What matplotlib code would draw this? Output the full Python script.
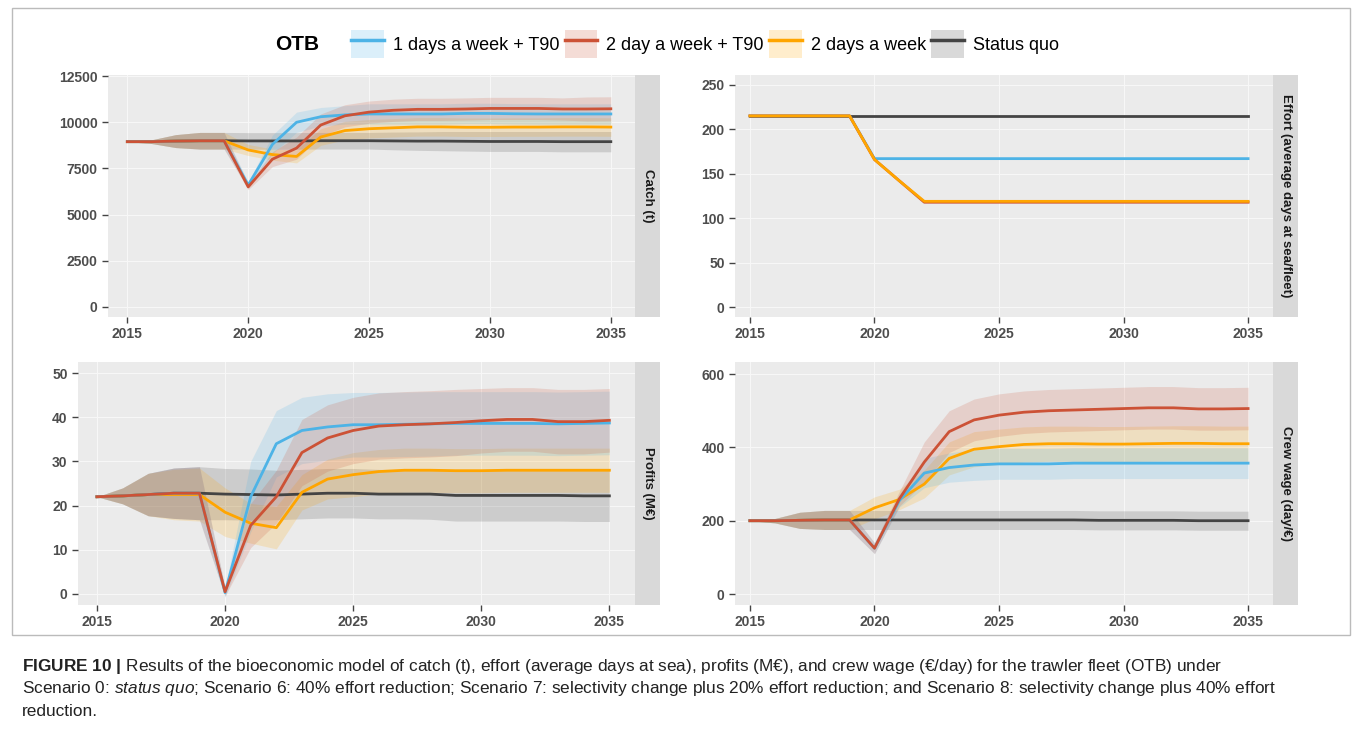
import matplotlib
matplotlib.use("Agg")
import matplotlib.pyplot as plt
import numpy as np
from matplotlib.lines import Line2D
from matplotlib.patches import Patch, Rectangle

plt.rcParams["font.family"] = ["Liberation Sans", "DejaVu Sans"]
plt.rcParams["mathtext.fontset"] = "custom"
plt.rcParams["mathtext.rm"] = "Liberation Sans"
plt.rcParams["mathtext.it"] = "Liberation Sans:italic"
plt.rcParams["mathtext.bf"] = "Liberation Sans:bold"

years = list(range(2015, 2036))
series_names = ["1 days a week + T90", "2 day a week + T90", "2 days a week", "Status quo"]
colors = ["#4DB3E6", "#CC5236", "#FFA500", "#444444"]

# catch (t)
catch_blue = [8950, 8950, 8980, 9000, 9000, 6600, 8800, 10000, 10300, 10400, 10450, 10450, 10450, 10450, 10480, 10480, 10460, 10450, 10450, 10450, 10450]
catch_red = [8950, 8950, 8980, 9000, 9000, 6500, 8000, 8600, 9850, 10350, 10550, 10650, 10700, 10700, 10720, 10750, 10750, 10750, 10720, 10720, 10730]
catch_orange = [8950, 8950, 8980, 9000, 9000, 8500, 8250, 8150, 9200, 9550, 9650, 9700, 9750, 9750, 9730, 9730, 9740, 9740, 9750, 9750, 9740]
catch_sq = [8950, 8950, 8980, 9000, 9000, 8990, 8990, 8990, 9000, 9000, 9000, 8990, 8980, 8980, 8970, 8960, 8960, 8960, 8950, 8950, 8950]
catch_spread_blue = [0, 100, 350, 450, 450, 150, 500, 550, 500, 500, 550, 550, 550, 550, 550, 550, 550, 550, 550, 550, 550]
catch_spread_red = [0, 100, 350, 450, 450, 150, 400, 600, 600, 600, 600, 600, 600, 600, 600, 600, 600, 600, 600, 650, 650]
catch_spread_orange = [0, 100, 350, 450, 450, 300, 300, 350, 450, 500, 500, 500, 500, 500, 500, 500, 500, 500, 500, 500, 500]
catch_spread_sq = [0, 100, 350, 450, 450, 450, 450, 450, 450, 450, 450, 480, 500, 520, 530, 540, 540, 540, 550, 550, 550]

# effort (average days at sea/fleet)
effort_blue = [215, 215, 215, 215, 215, 167, 167, 167, 167, 167, 167, 167, 167, 167, 167, 167, 167, 167, 167, 167, 167]
effort_red = [215, 215, 215, 215, 215, 166, 142, 118, 118, 118, 118, 118, 118, 118, 118, 118, 118, 118, 118, 118, 118]
effort_orange = [215, 215, 215, 215, 215, 166, 142, 119, 119, 119, 119, 119, 119, 119, 119, 119, 119, 119, 119, 119, 119]
effort_sq = [215] * 21

# profits (M EUR)
profit_blue = [22, 22.2, 22.5, 22.8, 22.8, 0.3, 22, 34, 37, 37.8, 38.3, 38.3, 38.4, 38.5, 38.6, 38.6, 38.6, 38.6, 38.5, 38.6, 38.7]
profit_red = [22, 22.2, 22.5, 22.8, 22.8, 0.5, 15.5, 22, 32, 35.3, 37, 38, 38.3, 38.5, 38.8, 39.2, 39.5, 39.5, 39, 39, 39.3]
profit_orange = [22, 22.2, 22.5, 22.5, 22.5, 18.5, 16, 15, 23, 26, 27, 27.7, 28, 28, 27.9, 27.9, 28, 28, 28, 28, 28]
profit_sq = [22, 22.2, 22.5, 22.8, 22.8, 22.6, 22.5, 22.4, 22.6, 22.8, 22.8, 22.6, 22.6, 22.6, 22.3, 22.3, 22.3, 22.3, 22.3, 22.2, 22.2]
profit_spread_blue = [0, 1.8, 4.8, 5.7, 6, 1, 8, 7.5, 7.5, 7.5, 7.3, 7.3, 7.3, 7.3, 7.2, 7.2, 7.2, 7.2, 7.2, 7.2, 7.2]
profit_spread_red = [0, 1.8, 4.8, 5.7, 6, 1, 5, 6, 7.5, 7.5, 7.5, 7.5, 7.5, 7.5, 7.5, 7.3, 7.2, 7.2, 7.3, 7.3, 7.2]
profit_spread_orange = [0, 1.8, 4.8, 5.7, 6, 5.5, 4.5, 4.8, 4, 4.5, 5, 5, 5, 5, 5, 5, 5, 5, 5, 5, 5]
profit_spread_sq = [0, 1.8, 4.8, 5.7, 6, 5.8, 5.8, 5.6, 5.6, 5.6, 5.6, 5.6, 5.6, 5.7, 5.8, 5.8, 5.8, 5.8, 5.8, 5.8, 5.8]

# crew wage (day/EUR)
wage_blue = [200, 200, 201, 202, 202, 125, 255, 330, 345, 352, 355, 355, 355, 357, 357, 357, 357, 357, 357, 357, 357]
wage_red = [200, 200, 201, 202, 202, 125, 260, 360, 443, 475, 488, 496, 500, 502, 504, 506, 508, 508, 505, 505, 506]
wage_orange = [200, 200, 201, 202, 202, 235, 258, 300, 370, 395, 402, 408, 410, 410, 409, 409, 410, 411, 411, 410, 410]
wage_sq = [200, 200, 201, 202, 202, 202, 202, 202, 202, 202, 202, 202, 202, 202, 201, 201, 201, 201, 200, 200, 200]
wage_spread_blue = [0, 6, 22, 26, 26, 15, 18, 40, 40, 42, 42, 42, 42, 42, 42, 42, 42, 42, 42, 42, 42]
wage_spread_red = [0, 6, 22, 26, 26, 15, 20, 55, 57, 57, 58, 58, 58, 58, 58, 58, 58, 58, 58, 58, 58]
wage_spread_orange = [0, 6, 22, 26, 26, 30, 28, 38, 45, 48, 48, 48, 48, 48, 48, 48, 48, 48, 48, 48, 48]
wage_spread_sq = [0, 6, 22, 26, 26, 26, 26, 26, 26, 26, 26, 26, 26, 26, 26, 26, 26, 26, 26, 26, 26]

panels = [
    ("Catch (t)", [catch_blue, catch_red, catch_orange, catch_sq],
     [catch_spread_blue, catch_spread_red, catch_spread_orange, catch_spread_sq],
     [0, 2500, 5000, 7500, 10000, 12500], (-545, 12560), (2014.2, 2036.0), [3, 2, 0, 1]),
    ("Effort (average days at sea/fleet)", [effort_blue, effort_red, effort_orange, effort_sq],
     None, [0, 50, 100, 150, 200, 250], (-11, 261), (2014.4, 2036.0), [3, 0, 1, 2]),
    ("Profits (M€)", [profit_blue, profit_red, profit_orange, profit_sq],
     [profit_spread_blue, profit_spread_red, profit_spread_orange, profit_spread_sq],
     [0, 10, 20, 30, 40, 50], (-2.5, 52.5), (2014.26, 2036.0), [3, 2, 0, 1]),
    ("Crew wage (day/€)", [wage_blue, wage_red, wage_orange, wage_sq],
     [wage_spread_blue, wage_spread_red, wage_spread_orange, wage_spread_sq],
     [0, 200, 400, 600], (-30, 633), (2014.4, 2036.0), [3, 2, 0, 1]),
]

W, H = 1358, 732
fig = plt.figure(figsize=(W / 100, H / 100), dpi=100)
fig.patch.set_facecolor("white")

# pixel boxes: left, top, right, bottom
boxes = [(108, 75, 635, 317), (735, 75, 1273, 317), (78, 362, 635, 605), (735, 362, 1273, 605)]
strip_w = 25

x = np.array(years)
for (title, lines, spreads, yticks, ylim, xlim, order), (l, t, r, b) in zip(panels, boxes):
    ax = fig.add_axes([l / W, 1 - b / H, (r - l) / W, (b - t) / H])
    ax.set_facecolor("#EBEBEB")
    for s in ax.spines.values():
        s.set_visible(False)
    ax.grid(True, color="#F7F7F7", linewidth=0.8)
    ax.set_axisbelow(True)
    if spreads is not None:
        for i in order:
            y = np.array(lines[i]); sp = np.array(spreads[i])
            ax.fill_between(x, y - sp, y + sp, color=colors[i], alpha=0.18, linewidth=0)
    for i in order:
        ax.plot(x, lines[i], color=colors[i], linewidth=2.0)
    ax.set_xlim(*xlim)
    ax.set_ylim(*ylim)
    ax.set_xticks([2015, 2020, 2025, 2030, 2035])
    ax.set_yticks(yticks)
    ax.tick_params(colors="#444444", labelsize=10, length=4, width=1)
    for lab in ax.get_xticklabels() + ax.get_yticklabels():
        lab.set_fontweight("bold")
        lab.set_color("#4D4D4D")
    sax = fig.add_axes([r / W, 1 - b / H, strip_w / W, (b - t) / H])
    sax.set_facecolor("#D9D9D9")
    sax.set_xticks([]); sax.set_yticks([])
    for s in sax.spines.values():
        s.set_visible(False)
    sax.text(0.5, 0.5, title, rotation=-90, ha="center", va="center",
             fontsize=9.5, fontweight="bold", color="#1A1A1A", transform=sax.transAxes)

handles = [(Patch(facecolor=c, alpha=0.2, edgecolor="none"), Line2D([], [], color=c, linewidth=2.5))
           for c in colors]
fig.text(297 / W, 1 - 44 / H, "OTB", fontsize=15, fontweight="bold", ha="center", va="center")
fig.legend(handles, series_names, loc="center", bbox_to_anchor=(705 / W, 1 - 44 / H), ncol=4,
           frameon=False, fontsize=13, handlelength=1.8, handletextpad=0.5, columnspacing=0.3,
           handleheight=2.0)

fig.patches.append(Rectangle((12 / W, 1 - 635 / H), 1338 / W, 627 / H, transform=fig.transFigure,
                             fill=False, edgecolor="#BBBBBB", linewidth=1))

fig.text(22 / W, 1 - 666 / H,
         r"$\bf{FIGURE\ 10\ |}$ Results of the bioeconomic model of catch (t), effort (average days at sea), profits (M€), and crew wage (€/day) for the trawler fleet (OTB) under",
         fontsize=12.4, va="center", color="#222222")
fig.text(22 / W, 1 - 689 / H,
         r"Scenario 0: $\it{status\ quo}$; Scenario 6: 40% effort reduction; Scenario 7: selectivity change plus 20% effort reduction; and Scenario 8: selectivity change plus 40% effort",
         fontsize=12.4, va="center", color="#222222")
fig.text(22 / W, 1 - 712 / H, "reduction.", fontsize=12.4, va="center", color="#222222")

fig.savefig("out.png", dpi=100)
